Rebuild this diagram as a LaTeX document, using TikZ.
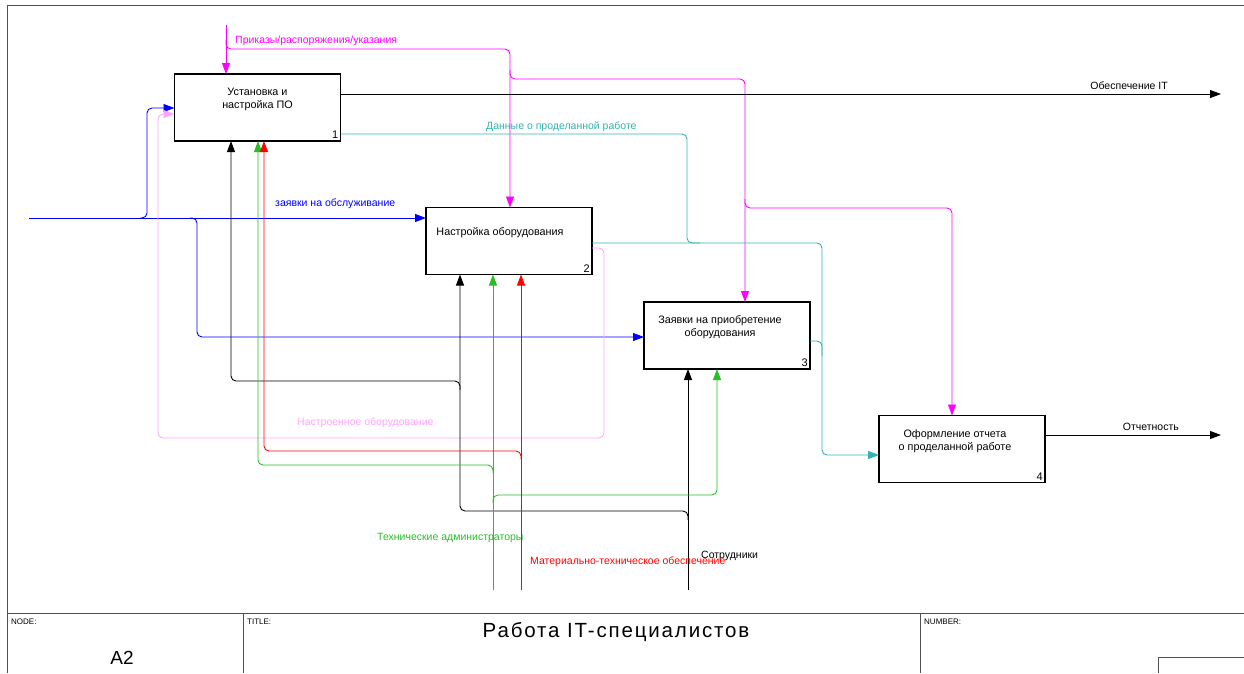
\documentclass[tikz,border=0pt]{standalone}
\usepackage{fontspec}
\setmainfont{Liberation Sans}
\usepackage{xcolor}
\usetikzlibrary{arrows.meta, positioning}

\definecolor{ctrlmag}{RGB}{255,0,255}
\definecolor{inblue}{RGB}{0,0,255}
\definecolor{softpink}{RGB}{255,165,255}
\definecolor{datateal}{RGB}{50,178,178}
\definecolor{admgreen}{RGB}{40,190,40}
\definecolor{matred}{RGB}{255,0,0}
\definecolor{framegray}{RGB}{80,80,80}

\begin{document}
\begin{tikzpicture}[x = 1pt, y = -1pt,
			> = {Triangle[length=11pt, width=8pt]},
			func/.style = {draw, line width=1.7pt, minimum width=166pt, minimum height=67pt, inner sep=0pt, outer sep=0pt},
			ftext/.style = {font=\fontsize{10.8}{13}\selectfont, align=center, inner sep=0pt},
			fnum/.style = {font=\fontsize{11}{12}\selectfont, anchor=south east, inner sep=2pt},
			arc/.style = {line width=0.9pt, rounded corners=5pt},
			lbl/.style = {font=\fontsize{10.5}{12}\selectfont, inner sep=0pt, anchor=west},
			frame/.style = {draw=framegray, line width=1pt}]
			\useasboundingbox (0,0) rectangle (1244,673);
			
			% frame and title block
			\draw[frame] (7,673) -- (7,5) -- (1244,5)
			(7,613) -- (1244,613)
			(243,613) -- (243,673)
			(920,613) -- (920,673)
			(1158,673) -- (1158,657) -- (1244,657);
			\node[lbl, font=\fontsize{8}{9}\selectfont] (nodelbl) at (11,622) {NODE:};
			\node[font=\fontsize{19}{20}\selectfont] (nodenum) at (122,658) {A2};
			\node[lbl, font=\fontsize{8}{9}\selectfont] (titlelbl) at (247,622) {TITLE:};
			\node[font=\fontsize{20.5}{22}\selectfont\addfontfeatures{LetterSpace=9}] (title) at (616,632) {Работа IT-специалистов};
			\node[lbl, font=\fontsize{8}{9}\selectfont] (numlbl) at (924,622) {NUMBER:};
			
			% functions
			\node[func] (b1) at (257.5,107.5) {};
			\node[func] (b2) at (509,241) {};
			\node[func] (b3) at (727,335.5) {};
			\node[func] (b4) at (962,449) {};
			%
			\node[ftext] (t1) at ([yshift=8pt]b1.center) {Установка и\\настройка ПО};
			\node[ftext] (t2) at ([xshift=-9pt, yshift=8pt]b2.center) {Настройка оборудования};
			\node[ftext] (t3) at ([xshift=-7pt, yshift=8pt]b3.center) {Заявки на приобретение\\оборудования};
			\node[ftext] (t4) at ([xshift=-7pt, yshift=8pt]b4.center) {Оформление отчета\\о проделанной работе};
			%
			\node[fnum] at (b1.south east) {1};
			\node[fnum] at (b2.south east) {2};
			\node[fnum] at (b3.south east) {3};
			\node[fnum] at (b4.south east) {4};
			
			% free ends
			\coordinate (ctrlin) at (226,25);
			\coordinate (reqin) at (29,218);
			\coordinate (itout) at (1221,94);
			\coordinate (repout) at (1221,435);
			\coordinate (staff) at (688,590);
			\coordinate (admins) at (493,590);
			\coordinate (supply) at (521,590);
			
			% controls
			\draw[arc, ctrlmag, ->] (ctrlin) -- (226,0 |- b1.north);
			\draw[arc, ctrlmag, ->] (226,40) |- (510,49) -- (510,0 |- b2.north);
			\draw[arc, ctrlmag, ->] (510,70) |- (745,79) -- (745,0 |- b3.north);
			\draw[arc, ctrlmag, ->] (745,199) |- (952,208) -- (952,0 |- b4.north);
			\node[lbl, text=ctrlmag] (ctrllbl) at (235,41) {Приказы/распоряжения/указания};
			
			% inputs
			\draw[arc, inblue, ->] (reqin) -- (b2.west |- 0,218);
			\draw[arc, inblue, ->] (140,218) -| (147,108) -- (b1.west |- 0,108);
			\draw[arc, inblue, ->] (190,218) -| (197,337) -- (b3.west |- 0,337);
			\node[lbl, text=inblue] (reqlbl) at (275,204) {заявки на обслуживание};
			
			\draw[arc, softpink, ->] (b2.east |- 0,248) -| (604,438) -| (158,114) -- (b1.west |- 0,114);
			\node[lbl, text=softpink] (donelbl) at (297,423) {Настроенное оборудование};
			
			% outputs
			\draw[arc, ->] (b1.east |- 0,94) -- (itout);
			\node[lbl, anchor=east] (itlbl) at (1168,86) {Обеспечение IT};
			\draw[arc, ->] (b4.east |- 0,435) -- (repout);
			\node[lbl, anchor=east] (replbl) at (1179,427) {Отчетность};
			
			\draw[arc, datateal] (b1.east |- 0,134) -| (687,243) -- (700,243);
			\draw[arc, datateal, ->] (b2.east |- 0,243) -| (822,455) -- (b4.west |- 0,455);
			\draw[arc, datateal] (b3.east |- 0,341) -| (822,356);
			\node[lbl, text=datateal] (datalbl) at (486,127) {Данные о проделанной работе};
			
			% mechanisms
			\draw[arc, ->] (staff) -- (688,0 |- b3.south);
			\draw[arc, ->] (688,520) |- (460,511) -- (460,0 |- b2.south);
			\draw[arc, ->] (460,390) |- (231,381) -- (231,0 |- b1.south);
			\node[lbl] (stafflbl) at (701,556) {Сотрудники};
			
			\draw[arc, admgreen, ->] (admins) -- (493,0 |- b2.south);
			\draw[arc, admgreen, ->] (493,473) |- (258,465) -- (258,0 |- b1.south);
			\draw[arc, admgreen, ->] (493,503) |- (717,495) -- (717,0 |- b3.south);
			\node[lbl, text=admgreen] (admlbl) at (377,538) {Технические администраторы};
			
			\draw[arc, matred, ->] (supply) -- (521,0 |- b2.south);
			\draw[arc, matred, ->] (521,459) |- (264,451) -- (264,0 |- b1.south);
			\node[lbl, text=matred] (matlbl) at (530,562) {Материально-техническое обеспечение};
		\end{tikzpicture}
\end{document}
